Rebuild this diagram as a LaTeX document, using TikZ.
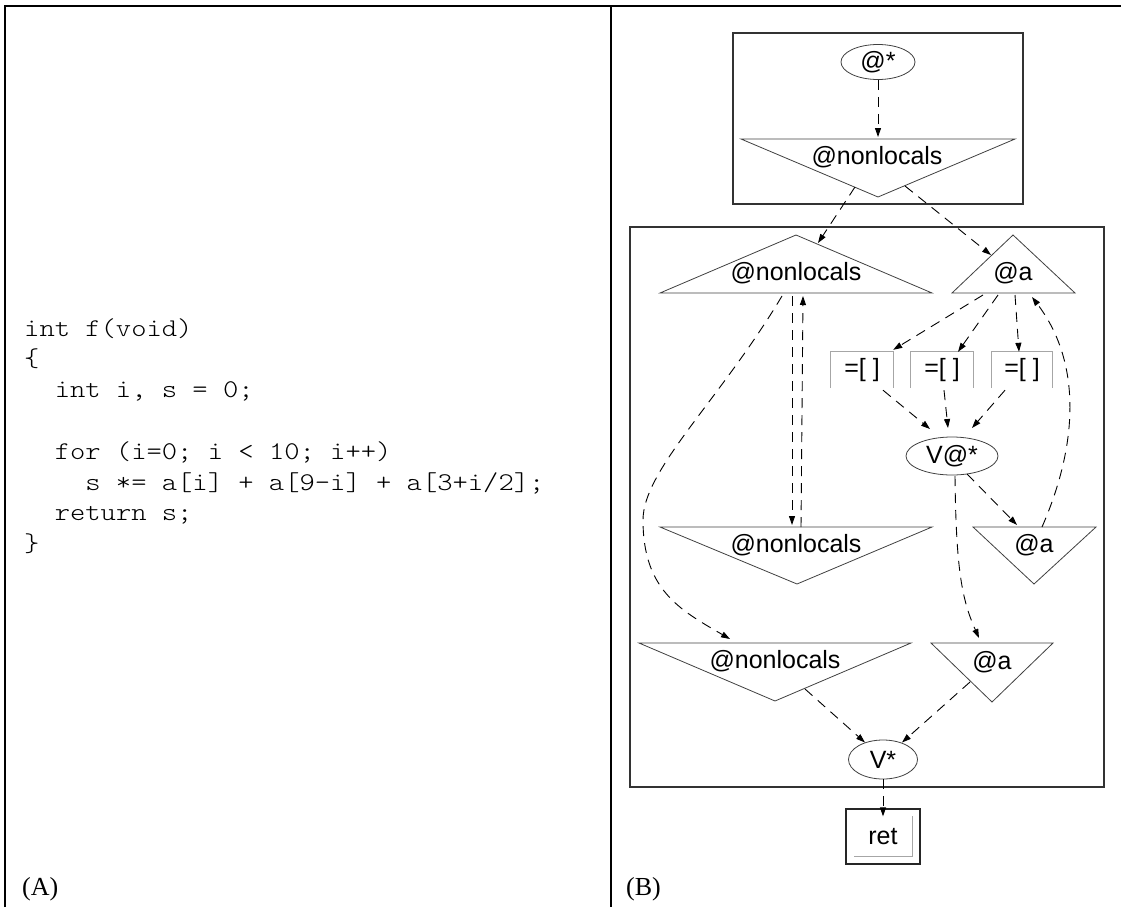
\documentclass[tikz,border=0pt]{standalone}
\usepackage{fontspec}
\setmainfont{Liberation Serif}
\setsansfont{Liberation Sans}
\newfontfamily\codefont[FakeStretch=1.143]{Latin Modern Mono Light}
\usetikzlibrary{calc,arrows.meta,shapes.geometric}
\begin{document}
\begin{tikzpicture}[x=1pt,y=-1pt,
  outerframe/.style={line width=2pt,black,line join=miter},
  codeline/.style={anchor=base west,inner sep=0pt,font=\fontsize{25.5}{30}\codefont},
  panellbl/.style={anchor=base west,inner sep=0pt,font=\fontsize{26}{30}\rmfamily},
  lbl/.style={inner sep=0pt,font=\fontsize{25}{30}\sffamily},
  tri/.style={draw=black!75,line width=0.8pt,line join=miter},
  ell/.style={ellipse,draw=black!75,line width=0.8pt,inner sep=0pt,font=\fontsize{25}{30}\sffamily},
  clusterbox/.style={draw=black!80,line width=1.3pt},
  gbox/.style={draw=black!35,line width=0.8pt},
  retbox/.style={draw=black!85,line width=1.2pt,inner sep=0pt,minimum width=74pt,minimum height=55pt,font=\fontsize{25}{30}\sffamily},
  conn/.style={draw=black,line width=0.9pt,dash pattern=on 10pt off 7pt,-{Triangle[length=9pt,width=6pt]}}
]
\useasboundingbox (0,0) rectangle (1121,907);
% outer frame
\draw[outerframe] (5,907) -- (5,6.5) -- (1121,6.5);
\draw[outerframe] (611,6.5) -- (611,907);
% code
\node[codeline] (c1) at (24,336) {int f(void)};
\node[codeline] (c2) at (24,366.8) {\{};
\node[codeline] (c3) at (54.6,397.6) {int i, s = 0;};
\node[codeline] (c4) at (54.6,459.2) {for (i=0; i < 10; i++)};
\node[codeline] (c5) at (85.2,490) {s *= a[i] + a[9-i] + a[3+i/2];};
\node[codeline] (c6) at (54.6,520.8) {return s;};
\node[codeline] (c7) at (24,551.6) {\}};
\node[panellbl] (la) at (22,895) {(A)};
\node[panellbl] (lb) at (626,895) {(B)};
% clusters
\draw[clusterbox] (733,33) rectangle (1023,204);
\draw[clusterbox] (630,227) rectangle (1104,787);
% nodes
\node[ell,minimum width=74pt,minimum height=35pt] (e1) at (878,62) {@*};
\node[lbl] (tTop) at (877,157) {@nonlocals};
\draw[tri] ($(tTop)+(-136,-18)$) -- ($(tTop)+(138,-18)$) -- ($(tTop)+(1,40)$) -- cycle;
\node[lbl] (tL1) at (796,273) {@nonlocals};
\draw[tri] ($(tL1)+(-136,20)$) -- ($(tL1)+(136,20)$) -- ($(tL1)+(0,-38)$) -- cycle;
\node[lbl] (tA1) at (1013,273) {@a};
\draw[tri] ($(tA1)+(-61,20)$) -- ($(tA1)+(62,20)$) -- ($(tA1)+(0,-38)$) -- cycle;
\node[lbl,minimum width=62pt,minimum height=36pt] (b1) at (862,370) {=[ ]};
\node[lbl,minimum width=62pt,minimum height=36pt] (b2) at (942,370) {=[ ]};
\node[lbl,minimum width=61pt,minimum height=36pt] (b3) at (1022,370) {=[ ]};
\draw[gbox] (b1.south west) -- (b1.north west) -- (b1.north east) -- (b1.south east);
\draw[gbox] (b2.south west) -- (b2.north west) -- (b2.north east) -- (b2.south east);
\draw[gbox] (b3.south west) -- (b3.north west) -- (b3.north east) -- (b3.south east);
\node[ell,minimum width=92pt,minimum height=38pt] (e2) at (952,456) {V@*};
\node[lbl] (tMid) at (796,545) {@nonlocals};
\draw[tri] ($(tMid)+(-136,-18)$) -- ($(tMid)+(136,-18)$) -- ($(tMid)+(1,39)$) -- cycle;
\node[lbl] (tA2) at (1034,545) {@a};
\draw[tri] ($(tA2)+(-61,-18)$) -- ($(tA2)+(62,-18)$) -- ($(tA2)+(0,39)$) -- cycle;
\node[lbl] (tL2) at (775,661) {@nonlocals};
\draw[tri] ($(tL2)+(-136,-18)$) -- ($(tL2)+(136,-18)$) -- ($(tL2)+(0,40)$) -- cycle;
\node[lbl] (tA3) at (992,662) {@a};
\draw[tri] ($(tA3)+(-61,-19)$) -- ($(tA3)+(61,-19)$) -- ($(tA3)+(0,40)$) -- cycle;
\node[ell,minimum width=69pt,minimum height=39pt] (e3) at (883,759.5) {V*};
\node[retbox] (r) at (883,836.5) {ret};
\draw[gbox] ($(r.south west)+(9,-8)$) -- ($(r.south east)+(-8,-8)$) -- ($(r.north east)+(-8,8)$);
% edges
\draw[conn] (e1.south) -- ($(tTop)+(1,-20)$);
\draw[conn] ($(tTop)+(-22,30)$) -- ($(tL1)+(22,-30)$);
\draw[conn] ($(tTop)+(28,29)$) -- ($(tA1)+(-22,-18)$);
\draw[conn] ($(tA1)+(-30,22)$) -- ($(b1.north east)+(0,-2)$);
\draw[conn] ($(tA1)+(-15,22)$) -- ($(b2.north)+(16,0)$);
\draw[conn] ($(tA1)+(2,22)$) -- ($(b3.north)+(-3,0)$);
\draw[conn] ($(tA2)+(8,-18)$) .. controls +(38,-87) and +(48,63) .. ($(tA1)+(19,24)$);
\draw[conn] ($(b1.south)+(21,2)$) -- ($(e2)+(-22,-27)$);
\draw[conn] ($(b2.south)+(2,2)$) -- ($(e2)+(-4,-28)$);
\draw[conn] ($(b3.south)+(-17,2)$) -- ($(e2)+(20,-28)$);
\draw[conn] ($(e2)+(15,18)$) -- ($(tA2)+(-17,-20)$);
\draw[conn] ($(e2)+(3,20)$) .. controls +(1,94) and +(-17,-38) .. ($(tA3)+(-13,-24)$);
\draw[conn] ($(tL1)+(-4,23)$) -- ($(tMid)+(-4,-20)$);
\draw[conn] ($(tMid)+(5,-18)$) -- ($(tL1)+(7,23)$);
\draw[conn] ($(tL1)+(-14,23)$) .. controls +(-62,104) and +(0,-50) .. ++(-139,224) .. controls +(0,70) and +(-50,-29) .. ($(tL2)+(-45,-22)$);
\draw[conn] ($(tL2)+(30,28)$) -- ($(e3)+(-18,-17)$);
\draw[conn] ($(tA3)+(-22,20)$) -- ($(e3)+(19,-17)$);
\draw[conn] (e3.south) -- ($(r.north)+(0,8)$);
\end{tikzpicture}
\end{document}
